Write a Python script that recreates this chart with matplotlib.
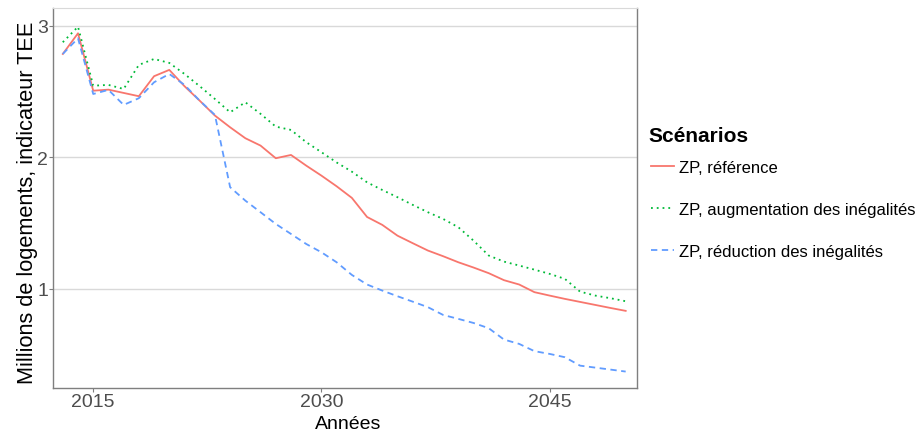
import matplotlib
matplotlib.use("Agg")
import matplotlib.pyplot as plt

plt.rcParams['font.family'] = ['Liberation Sans', 'DejaVu Sans']

annees = list(range(2013, 2051))

# millions de logements
reference = [2.785, 2.942, 2.506, 2.514, 2.489, 2.464, 2.616, 2.664, 2.54, 2.43,
             2.317, 2.228, 2.145, 2.089, 1.993, 2.018, 1.937, 1.861, 1.78, 1.692,
             1.547, 1.487, 1.405, 1.348, 1.292, 1.249, 1.203, 1.163, 1.12, 1.067,
             1.034, 0.976, 0.95, 0.925, 0.902, 0.879, 0.856, 0.834]
augmentation = [2.874, 2.992, 2.544, 2.55, 2.519, 2.702, 2.747, 2.717, 2.633, 2.54,
                2.443, 2.342, 2.418, 2.33, 2.233, 2.208, 2.115, 2.039, 1.961, 1.891,
                1.81, 1.752, 1.697, 1.639, 1.583, 1.532, 1.469, 1.367, 1.254, 1.208,
                1.178, 1.147, 1.115, 1.077, 0.98, 0.95, 0.93, 0.907]
reduction = [2.785, 2.904, 2.481, 2.512, 2.398, 2.449, 2.57, 2.633, 2.55, 2.43,
             2.322, 1.773, 1.671, 1.583, 1.494, 1.418, 1.342, 1.279, 1.203, 1.107,
             1.034, 0.988, 0.945, 0.904, 0.862, 0.803, 0.773, 0.742, 0.702, 0.616,
             0.583, 0.528, 0.507, 0.482, 0.418, 0.403, 0.388, 0.373]

noms = ["ZP, référence", "ZP, augmentation des inégalités", "ZP, réduction des inégalités"]

fig = plt.figure(figsize=(9.2, 4.35), dpi=100)
ax = fig.add_axes([0.058, 0.1057, 0.634, 0.873])

ax.plot(annees, reference, color='#F8766D', lw=1.3, ls='-', label=noms[0])
ax.plot(annees, augmentation, color='#00BA38', lw=1.3, ls=(0, (1, 2.2)), label=noms[1])
ax.plot(annees, reduction, color='#619CFF', lw=1.3, ls=(0, (3.5, 2.5)), label=noms[2])

ax.set_xlim(2012.38, 2050.72)
ax.set_ylim(0.248, 3.132)
ax.set_xticks([2015, 2030, 2045])
ax.set_yticks([1, 2, 3])
ax.grid(axis='y', color='#d9d9d9', lw=1)
ax.set_axisbelow(True)

for s in ['left', 'bottom', 'right']:
    ax.spines[s].set_color('#7f7f7f')
    ax.spines[s].set_linewidth(1)
ax.spines['top'].set_color('#d9d9d9')
ax.tick_params(colors='#7f7f7f', labelcolor='#4d4d4d', labelsize=14, length=2.8, pad=1)
ax.tick_params(axis='x', pad=0.5)

ax.set_xlabel("Années", fontsize=14)
ax.xaxis.set_label_coords(0.505, -0.072)
ax.set_ylabel("Millions de logements, indicateur TEE", fontsize=15.7)
ax.yaxis.set_label_coords(-0.027, 0.49)

leg = ax.legend(loc='upper left', bbox_to_anchor=(0.7073, 0.63), bbox_transform=fig.transFigure,
                frameon=False, fontsize=12, handlelength=1.4, handletextpad=0.32,
                labelspacing=1.62, borderpad=0, borderaxespad=0)
fig.text(648.3 / 920, 1 - 136.7 / 435, "Scénarios", fontsize=15, fontweight='bold',
         ha='left', va='center')

fig.savefig("out.png", dpi=100)
